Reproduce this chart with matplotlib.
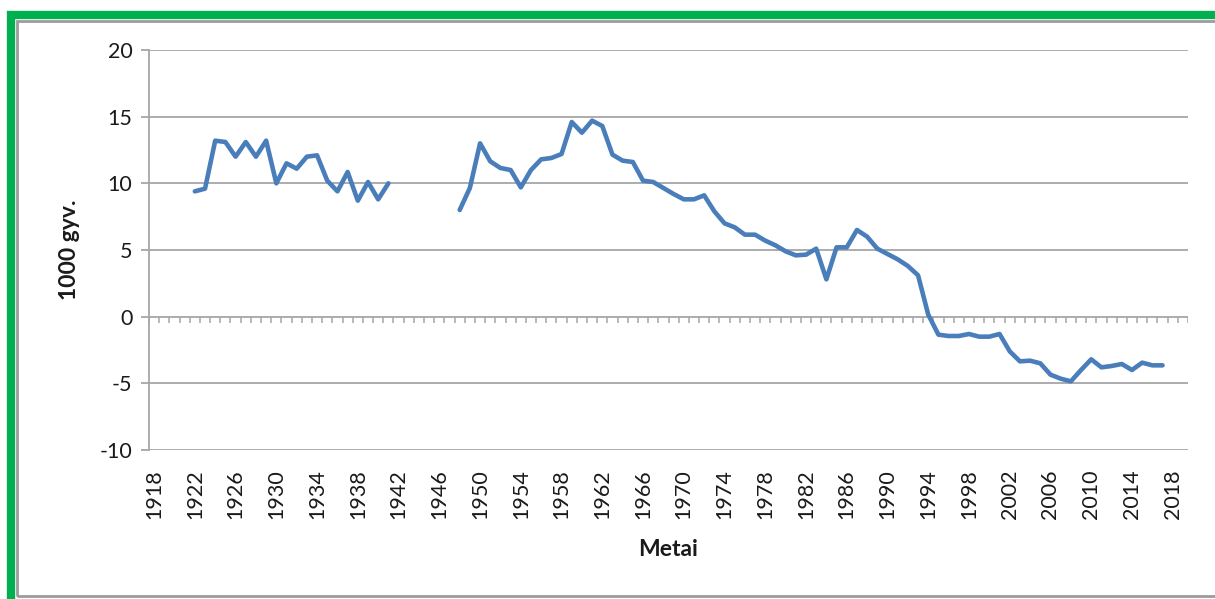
import numpy as np
import matplotlib
matplotlib.use("Agg")
import matplotlib.pyplot as plt
from matplotlib.patches import Rectangle

# categories on the x axis (Excel-style category axis, one slot per year)
first_year = 1918
last_year = 2019
tick_years = list(range(1918, 2019, 4))

# series values (1000 gyv.)
years_prewar = list(range(1922, 1942))
values_prewar = [9.4, 9.6, 13.2, 13.1, 12.0, 13.1, 12.0, 13.2, 10.0, 11.5,
                 11.1, 12.0, 12.1, 10.2, 9.4, 10.85, 8.7, 10.1, 8.8, 10.0]

years_postwar = list(range(1948, 2018))
values_postwar = [8.0, 9.65, 13.0, 11.65, 11.15, 11.0, 9.7, 11.0, 11.8, 11.9,
                  12.2, 14.6, 13.8, 14.7, 14.3, 12.15, 11.7, 11.6, 10.2, 10.1,
                  9.65, 9.2, 8.8, 8.8, 9.1, 7.9, 7.0, 6.7, 6.15, 6.15,
                  5.7, 5.35, 4.9, 4.6, 4.65, 5.1, 2.8, 5.2, 5.2, 6.5,
                  6.0, 5.1, 4.7, 4.3, 3.8, 3.1, 0.15, -1.35, -1.45, -1.45,
                  -1.3, -1.5, -1.5, -1.3, -2.6, -3.35, -3.3, -3.5, -4.35, -4.65,
                  -4.85, -4.0, -3.2, -3.8, -3.7, -3.55, -4.0, -3.45, -3.65, -3.65]

y_ticks = [-10, -5, 0, 5, 10, 15, 20]

plt.rcParams['font.family'] = ['Lato', 'DejaVu Sans']
plt.rcParams['axes.unicode_minus'] = False

W, H = 1215, 599
fig = plt.figure(figsize=(W / 100, H / 100), dpi=100)
ax = fig.add_axes([149 / W, 1 - 450 / H, (1188 - 149) / W, 400 / H])

grid_col = '#A6A6A6'
line_col = '#4A7EBB'
text_col = '#1A1A1A'
n_cat = last_year - first_year + 1

ax.plot([y - first_year for y in years_prewar], values_prewar,
        color=line_col, lw=3.3, solid_joinstyle='round', solid_capstyle='round')
ax.plot([y - first_year for y in years_postwar], values_postwar,
        color=line_col, lw=3.3, solid_joinstyle='round', solid_capstyle='round')

ax.set_xlim(-0.5, n_cat - 0.5)
ax.set_ylim(-10, 20)

# horizontal gridlines
ax.set_yticks(y_ticks)
ax.yaxis.grid(True, color=grid_col, lw=1.3)
ax.set_axisbelow(True)
ax.tick_params(axis='y', length=6, width=1.3, color=grid_col, pad=6,
               labelsize=15.5, labelcolor=text_col)

# category labels at the bottom, rotated
ax.set_xticks([y - first_year for y in tick_years])
ax.set_xticklabels([str(y) for y in tick_years], rotation=90)
ax.tick_params(axis='x', length=0, pad=14, labelsize=15.5, labelcolor=text_col)

for s in ['top', 'right', 'bottom']:
    ax.spines[s].set_visible(False)
ax.spines['left'].set_color(grid_col)
ax.spines['left'].set_linewidth(1.3)

# category axis crossing at zero with small tick marks
bounds = np.arange(-0.5, n_cat, 1)
ax.vlines(bounds, -0.45, 0, color=grid_col, lw=1.1, zorder=1)

ax.set_ylabel('1000 gyv.', fontsize=16.5, fontweight='bold', labelpad=14,
              color=text_col)
ax.set_xlabel('Metai', fontsize=16.5, fontweight='bold', labelpad=14,
              color=text_col)

# green frame round the chart
fig.add_artist(Rectangle((17 / W, 1 - 596 / H), 1215 / W, (596 - 21) / H,
                         transform=fig.transFigure, fill=False,
                         edgecolor='#9C9C9C', lw=2.0))
fig.add_artist(Rectangle((11 / W, 1 - 602 / H), 1215 / W, (602 - 15) / H,
                         transform=fig.transFigure, fill=False,
                         edgecolor='#00B050', lw=6.0))

fig.savefig('out.png', dpi=100)
